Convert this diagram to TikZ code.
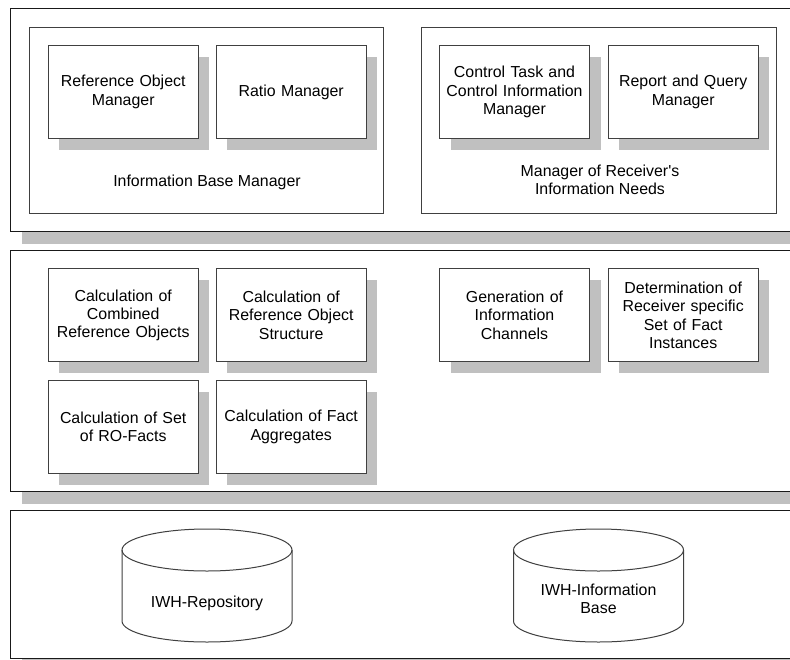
\documentclass[tikz,border=0pt]{standalone}
\usepackage{fontspec}
\setmainfont{Liberation Sans}
\usepackage{tikz}
\definecolor{shadowgray}{HTML}{C0C0C0}
\definecolor{linegray}{HTML}{404040}
\tikzset{
  layer/.style={draw=black!90, line width=1pt, fill=white, anchor=north west, inner sep=0pt,
    minimum width=790pt,
    preaction={fill=shadowgray, transform canvas={xshift=11pt,yshift=-12pt}}},
  group/.style={draw=linegray, line width=1pt, fill=white, anchor=north west, inner sep=0pt},
  modbox/.style={draw=linegray, line width=1pt, fill=white, anchor=north west, inner sep=0pt,
    minimum width=150pt, minimum height=93pt, text width=146pt, align=center,
    preaction={fill=shadowgray, transform canvas={xshift=11pt,yshift=-11pt}}},
  store/.style={draw=linegray, line width=1pt},
}
\begin{document}
\begin{tikzpicture}[x=1pt,y=1pt,font=\fontsize{15.9}{18.4}\selectfont]
\useasboundingbox (0,0) rectangle (790,-659);
\clip (0,0) rectangle (790,-659);

% three layers
\node[layer, minimum height=223pt] (upper) at (10,-8) {};
\node[layer, minimum height=241pt] (middle) at (10,-250) {};
\node[layer, minimum height=148pt] (lower) at (10,-510) {};

% upper layer
\node[group, minimum width=354pt, minimum height=186pt] (ibm) at (29,-27) {};
\node[group, minimum width=355pt, minimum height=186pt] (mrn) at (421,-27) {};
\node (ibmlabel) at (207,-182) {Information Base Manager};
\node[align=center] (mrnlabel) at (600,-180) {Manager of Receiver\textquotesingle s\\Information Needs};

\node[modbox] (refobj) at (47.7,-45) {Reference Object\\Manager};
\node[modbox] (ratio) at (215.7,-45) {Ratio Manager};
\node[modbox] (control) at (439,-45) {Control Task and\\Control Information\\Manager};
\node[modbox] (report) at (607.7,-45) {Report and Query\\Manager};

% middle layer
\node[modbox] (combined) at (47.7,-268.3) {Calculation of\\Combined\\Reference Objects};
\node[modbox] (structure) at (215.7,-268.3) {Calculation of\\Reference Object\\Structure};
\node[modbox] (channels) at (439,-268.3) {Generation of\\Information\\Channels};
\node[modbox] (instances) at (607.7,-268.3) {Determination of\\Receiver specific\\Set of Fact\\Instances};
\node[modbox] (rofacts) at (47.7,-380) {Calculation of Set\\of RO-Facts};
\node[modbox] (aggregates) at (215.7,-380) {Calculation of Fact\\Aggregates};

% lower layer: data stores
\draw[store] (122,-550) -- (122,-621) arc[start angle=180,end angle=360,x radius=85pt,y radius=21pt] -- (292,-550);
\draw[store] (207,-550) ellipse[x radius=85pt,y radius=21pt];
\node (repo) at (207,-603) {IWH-Repository};

\draw[store] (513.5,-550) -- (513.5,-621) arc[start angle=180,end angle=360,x radius=85pt,y radius=21pt] -- (683.5,-550);
\draw[store] (598.5,-550) ellipse[x radius=85pt,y radius=21pt];
\node[align=center] (infobase) at (598.5,-599) {IWH-Information\\Base};
\end{tikzpicture}
\end{document}
